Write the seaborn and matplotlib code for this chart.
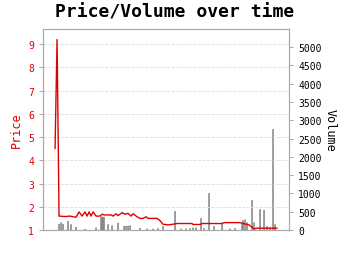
import matplotlib
matplotlib.use("Agg")
import matplotlib.pyplot as plt
import seaborn as sns
import pandas as pd

sns.set_style("white")
plt.rcParams['font.family'] = ['DejaVu Sans Mono', 'DejaVu Sans']
plt.rcParams['text.color'] = 'black'

price_day = [0, 2, 4, 10, 15, 18, 21, 24, 27, 30, 32, 34, 36, 38, 41, 45, 47, 49, 52, 56,
             58, 61, 63, 67, 70, 73, 76, 78, 82, 85, 88, 91, 93, 102, 105, 108, 113, 118,
             122, 137, 138, 145, 147, 167, 169, 185, 188, 194, 199, 202, 222]
price_val = [4.5, 9.2, 1.6, 1.58, 1.6, 1.57, 1.55, 1.78, 1.6, 1.78, 1.6, 1.78, 1.6, 1.78,
             1.6, 1.6, 1.68, 1.65, 1.65, 1.65, 1.6, 1.7, 1.62, 1.75, 1.68, 1.72, 1.6, 1.7,
             1.57, 1.5, 1.5, 1.57, 1.5, 1.5, 1.4, 1.25, 1.22, 1.25, 1.28, 1.28, 1.24, 1.24,
             1.28, 1.28, 1.32, 1.32, 1.28, 1.22, 1.05, 1.08, 1.08]

vol_day = [4, 6, 8, 13, 16, 21, 30, 41, 46, 47, 48, 49, 53, 57, 63, 69, 71, 73, 75, 85,
           92, 98, 103, 108, 120, 126, 131, 135, 138, 141, 146, 149, 154, 159, 167, 175,
           180, 187, 188, 190, 192, 197, 199, 205, 209, 212, 215, 218, 220]
vol_val = [160, 200, 160, 240, 150, 80, 20, 60, 350, 360, 340, 350, 150, 120, 190, 100,
           110, 110, 120, 50, 30, 30, 40, 100, 510, 30, 30, 40, 60, 60, 320, 40, 1000,
           100, 190, 30, 40, 200, 260, 280, 200, 810, 200, 560, 540, 100, 60, 2750, 150]

xtick_pos = [0, 51, 101, 152, 203]

price_df = pd.DataFrame({"day": price_day, "price": price_val})

fig = plt.figure(figsize=(3.5, 2.55), dpi=100)
ax = fig.add_axes([0.123, 0.094, 0.703, 0.788])
ax2 = ax.twinx()

ax2.bar(vol_day, vol_val, width=0.9, color="#808080", edgecolor="#808080",
        linewidth=0.4, snap=False)
sns.lineplot(data=price_df, x="day", y="price", ax=ax, color="#e00000", linewidth=1.0)

ax.set_zorder(ax2.get_zorder() + 1)
ax.patch.set_visible(False)

ax.set_xlim(-12, 234)
ax.set_ylim(1, 9.65)
ax2.set_ylim(0, 5490)
ax.set_yticks(range(1, 10))
ax2.set_yticks(range(0, 5001, 500))
ax.set_xticks(xtick_pos)
ax.set_xticklabels([""] * len(xtick_pos))

ax.grid(axis="y", color="#dddddd", linestyle="--", linewidth=0.6)
ax.set_axisbelow(True)

ax.set_xlabel("")
ax.set_ylabel("Price", color="#dd0000", fontsize=8.5)
ax2.set_ylabel("Volume", color="black", fontsize=8.5, rotation=-90, labelpad=11)

ax.tick_params(axis="y", colors="#dd0000", labelsize=7, length=3, width=0.6)
ax.tick_params(axis="x", length=3, width=0.6, color="#999999")
ax2.tick_params(axis="y", colors="black", labelsize=7, length=3, width=0.6)
ax.tick_params(axis="y", color="#999999")
ax2.tick_params(axis="y", color="#999999")

for a in (ax, ax2):
    for s in a.spines.values():
        s.set_color("#aaaaaa")
        s.set_linewidth(0.8)

fig.suptitle("Price/Volume over time", fontsize=13, fontweight="bold", y=0.985, color="black")

fig.savefig("out.png", dpi=100)
